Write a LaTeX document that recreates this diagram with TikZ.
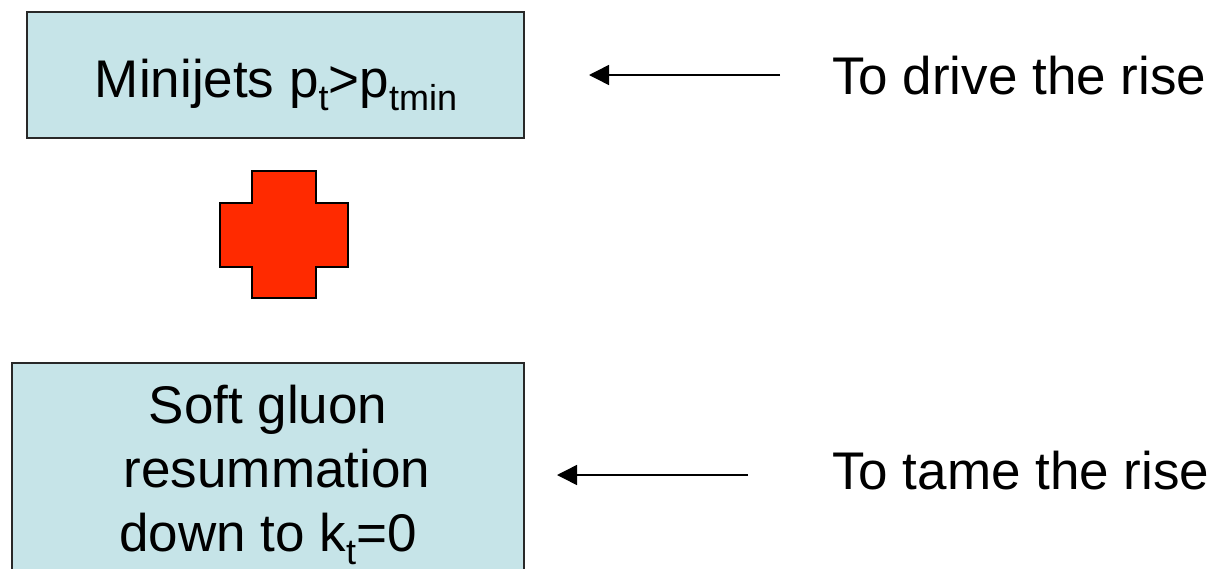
\documentclass[tikz,border=0pt]{standalone}
\usepackage{fontspec}
\setmainfont{Liberation Sans}
\usetikzlibrary{arrows.meta}
\definecolor{boxfill}{RGB}{198,228,232}
\definecolor{crossred}{RGB}{255,42,0}
\definecolor{edgegray}{RGB}{40,40,40}
\newcommand\subtxt[1]{\raisebox{-13pt}{\fontsize{36}{36}\selectfont #1}}
\begin{document}
\begin{tikzpicture}[x=1pt,y=-1pt,
  box/.style={draw=edgegray, line width=1.5pt, fill=boxfill, inner sep=0pt},
  lbl/.style={font=\fontsize{53}{64}\selectfont, inner sep=0pt},
  pointer/.style={line width=1.5pt, -{Triangle[length=20pt,width=20pt]}},
  plus/.style={draw=black, line width=2pt, fill=crossred, line join=miter}]
\useasboundingbox (0,0) rectangle (1221,568);
\clip (0,0) rectangle (1221,568);
% boxes
\node[box, minimum width=497pt, minimum height=126pt] (top) at (275.5,75) {};
\node[lbl, anchor=base] (toptxt) at (276,97) {Minijets p\subtxt{t}>p\subtxt{tmin}};
\node[box, minimum width=512pt, minimum height=227pt] (bot) at (268,476.5) {};
\node[lbl, align=center, anchor=center] (bottxt) at (268,474.5) {Soft gluon\\\hspace*{18pt}resummation\\down to k\subtxt{t}=0};
% cross
\draw[plus] (252,171) -- (316,171) -- (316,203) -- (348,203) -- (348,267) -- (316,267) -- (316,298) -- (252,298) -- (252,267) -- (220,267) -- (220,203) -- (252,203) -- cycle;
% labels
\node[lbl, anchor=base west] (drive) at (832,94) {To drive the rise};
\node[lbl, anchor=base west] (tame) at (832,489) {To tame the rise};
% arrows
\coordinate (a1s) at (780,75);
\coordinate (a1e) at (589,75);
\coordinate (a2s) at (748,475);
\coordinate (a2e) at (557,475);
\draw[pointer] (a1s) -- (a1e);
\draw[pointer] (a2s) -- (a2e);
\end{tikzpicture}
\end{document}
